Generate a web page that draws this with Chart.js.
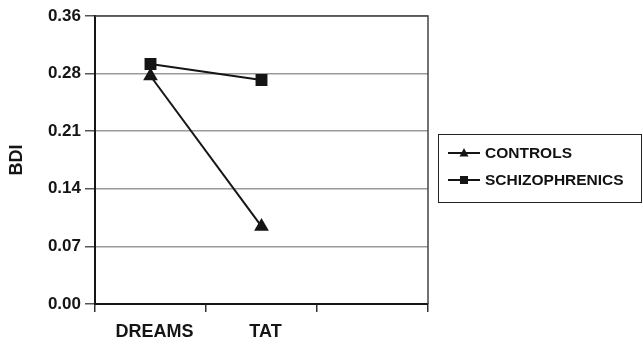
<!DOCTYPE html>
<html>
<head>
<meta charset="utf-8">
<script src="https://cdn.jsdelivr.net/npm/chart.js@4"></script>
<style>
  html, body { margin: 0; padding: 0; background: #fff; }
  #wrap { position: relative; width: 643px; height: 345px; overflow: hidden; }
  #legend {
    position: absolute; left: 438px; top: 134px; width: 202px; height: 67px;
    border: 1.5px solid #222; background: #fff;
    font: bold 15.5px "Liberation Sans", Arial, sans-serif; color: #111;
  }
  .item { position: absolute; left: 8px; height: 16px; display: flex; align-items: center; }
  .item canvas { width: 34px; height: 16px; margin-right: 4px; }
</style>
</head>
<body>
<div id="wrap">
  <canvas id="chart" width="643" height="345"></canvas>
  <div id="legend"></div>
</div>
<script>
// values
const categories = ["DREAMS", "TAT", ""];
const controls = [0.285, 0.097, null];
const schizophrenics = [0.300, 0.280, null];
const seriesNames = ["CONTROLS", "SCHIZOPHRENICS"];
const yTickValues = [0, 0.072, 0.144, 0.216, 0.288, 0.36];
const yTickLabels = ["0.00", "0.07", "0.14", "0.21", "0.28", "0.36"];

const ink = "#151515";
const font = "'Liberation Sans', Arial, sans-serif";

// plot frame (top + right edges)
const frame = {
  id: "frame",
  beforeDatasetsDraw(chart) {
    const { ctx, chartArea: a } = chart;
    ctx.save();
    ctx.strokeStyle = "#444";
    ctx.lineWidth = 1.5;
    ctx.beginPath();
    ctx.moveTo(a.left, a.top);
    ctx.lineTo(a.right, a.top);
    ctx.lineTo(a.right, a.bottom);
    ctx.stroke();
    ctx.restore();
  }
};

new Chart(document.getElementById("chart"), {
  type: "line",
  data: {
    labels: categories,
    datasets: [
      {
        label: seriesNames[0],
        data: controls,
        borderColor: ink,
        backgroundColor: ink,
        borderWidth: 2,
        pointStyle: "triangle",
        pointRadius: 6.5,
        order: 1
      },
      {
        label: seriesNames[1],
        data: schizophrenics,
        borderColor: ink,
        backgroundColor: ink,
        borderWidth: 2,
        pointStyle: "rect",
        pointRadius: 7,
        order: 0
      }
    ]
  },
  options: {
    responsive: false,
    animation: false,
    layout: { padding: { top: 16, right: 215, left: 0, bottom: 0 } },
    plugins: {
      legend: { display: false },
      tooltip: { enabled: false }
    },
    scales: {
      x: {
        offset: true,
        afterFit: s => { s.height = 41; },
        grid: {
          display: true,
          drawOnChartArea: false,
          offset: true,
          tickLength: 8,
          color: "#333",
          lineWidth: 1.5
        },
        border: { color: ink, width: 2 },
        ticks: {
          color: ink,
          padding: 9,
          labelOffset: 4,
          font: { family: font, size: 18, weight: "bold" }
        }
      },
      y: {
        min: 0,
        max: 0.36,
        afterFit: s => { s.width = 95; },
        afterBuildTicks: s => { s.ticks = yTickValues.map(v => ({ value: v })); },
        grid: {
          color: "#9a9a9a",
          lineWidth: 1.5,
          tickLength: 10,
          tickColor: "#555"
        },
        border: { color: ink, width: 2 },
        ticks: {
          color: ink,
          padding: 4,
          font: { family: font, size: 17, weight: "bold" },
          callback: (v, i) => yTickLabels[i]
        },
        title: {
          display: true,
          text: "BDI",
          color: ink,
          padding: { top: 6, bottom: 0 },
          font: { family: font, size: 18, weight: "bold" }
        }
      }
    }
  },
  plugins: [frame]
});

// legend: line + marker sample and label
const legend = document.getElementById("legend");
const styles = ["triangle", "rect"];
seriesNames.forEach((name, i) => {
  const row = document.createElement("div");
  row.className = "item";
  row.style.top = (10 + i * 27) + "px";
  const c = document.createElement("canvas");
  c.width = 34; c.height = 16;
  const g = c.getContext("2d");
  g.strokeStyle = ink; g.fillStyle = ink; g.lineWidth = 2;
  g.beginPath(); g.moveTo(1, 8); g.lineTo(33, 8); g.stroke();
  g.beginPath();
  if (styles[i] === "triangle") {
    g.moveTo(17, 3); g.lineTo(21.5, 11.5); g.lineTo(12.5, 11.5); g.closePath();
  } else {
    g.rect(13, 4, 8, 8);
  }
  g.fill();
  row.appendChild(c);
  const t = document.createElement("span");
  t.textContent = name;
  row.appendChild(t);
  legend.appendChild(row);
});
</script>
</body>
</html>
